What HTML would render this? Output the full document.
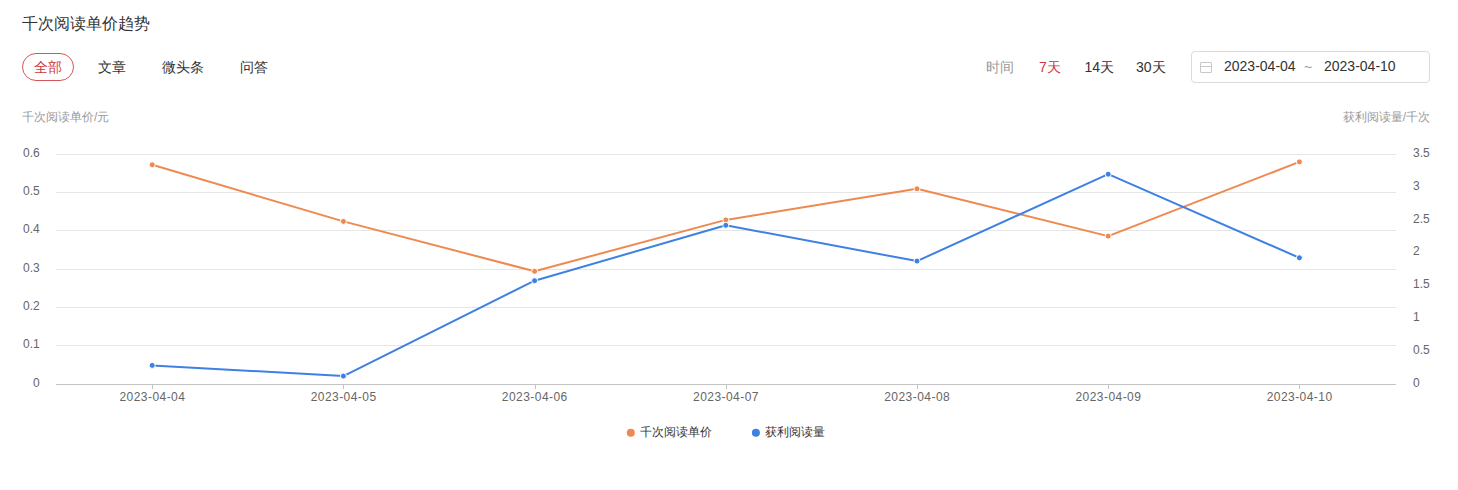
<!DOCTYPE html>
<html><head><meta charset="utf-8"><style>
*{margin:0;padding:0;box-sizing:border-box}
html,body{width:1458px;height:490px;background:#fff;overflow:hidden;font-family:"Liberation Sans",sans-serif;color:#333}
.a{position:absolute;white-space:nowrap}
.title{left:22px;top:14px;font-size:16px;line-height:20px;color:#333}
.pill{left:22px;top:53px;width:52px;height:28px;border:1px solid #d6555b;border-radius:14px}
.tab{top:59px;font-size:14px;line-height:16px;color:#333}
.red{color:#cf363d}
.gray{color:#999}
.box{left:1191px;top:51px;width:239px;height:32px;border:1px solid #dadbde;border-radius:4px}
.cal{left:1200px;top:62px;width:12px;height:11px;border:1px solid #c8c8c8;border-radius:1px}
.cal:after{content:"";position:absolute;left:0;right:0;top:3px;height:1px;background:#c8c8c8}
.ax{top:110px;font-size:12px;line-height:14px;color:#999}
.leg{top:425px;font-size:12px;line-height:14px;color:#333}
</style></head><body>
<svg width="1458" height="490" viewBox="0 0 1458 490" style="position:absolute;left:0;top:0">
<line x1="56" x2="1396" y1="154.5" y2="154.5" stroke="#e6e6e6" stroke-width="1"/>
<line x1="56" x2="1396" y1="192.5" y2="192.5" stroke="#e6e6e6" stroke-width="1"/>
<line x1="56" x2="1396" y1="230.5" y2="230.5" stroke="#e6e6e6" stroke-width="1"/>
<line x1="56" x2="1396" y1="269.5" y2="269.5" stroke="#e6e6e6" stroke-width="1"/>
<line x1="56" x2="1396" y1="307.5" y2="307.5" stroke="#e6e6e6" stroke-width="1"/>
<line x1="56" x2="1396" y1="345.5" y2="345.5" stroke="#e6e6e6" stroke-width="1"/>
<line x1="56" x2="1396" y1="384.5" y2="384.5" stroke="#c4c4c4" stroke-width="1"/>
<line x1="152.5" x2="152.5" y1="385" y2="389" stroke="#c4c4c4" stroke-width="1"/>
<line x1="343.5" x2="343.5" y1="385" y2="389" stroke="#c4c4c4" stroke-width="1"/>
<line x1="535.5" x2="535.5" y1="385" y2="389" stroke="#c4c4c4" stroke-width="1"/>
<line x1="726.5" x2="726.5" y1="385" y2="389" stroke="#c4c4c4" stroke-width="1"/>
<line x1="917.5" x2="917.5" y1="385" y2="389" stroke="#c4c4c4" stroke-width="1"/>
<line x1="1108.5" x2="1108.5" y1="385" y2="389" stroke="#c4c4c4" stroke-width="1"/>
<line x1="1299.5" x2="1299.5" y1="385" y2="389" stroke="#c4c4c4" stroke-width="1"/>
<g font-family="Liberation Sans, sans-serif" font-size="12" fill="#666">
<text x="39.8" y="156.8" text-anchor="end">0.6</text>
<text x="39.8" y="194.8" text-anchor="end">0.5</text>
<text x="39.8" y="232.8" text-anchor="end">0.4</text>
<text x="39.8" y="271.8" text-anchor="end">0.3</text>
<text x="39.8" y="309.8" text-anchor="end">0.2</text>
<text x="39.8" y="347.8" text-anchor="end">0.1</text>
<text x="39.8" y="386.8" text-anchor="end">0</text>
<text x="1413" y="156.8">3.5</text>
<text x="1413" y="189.7">3</text>
<text x="1413" y="222.5">2.5</text>
<text x="1413" y="255.4">2</text>
<text x="1413" y="288.2">1.5</text>
<text x="1413" y="321.1">1</text>
<text x="1413" y="353.9">0.5</text>
<text x="1413" y="386.8">0</text>
<text x="152.4" y="400.7" text-anchor="middle" letter-spacing="0.45">2023-04-04</text>
<text x="343.6" y="400.7" text-anchor="middle" letter-spacing="0.45">2023-04-05</text>
<text x="534.8" y="400.7" text-anchor="middle" letter-spacing="0.45">2023-04-06</text>
<text x="726.0" y="400.7" text-anchor="middle" letter-spacing="0.45">2023-04-07</text>
<text x="917.2" y="400.7" text-anchor="middle" letter-spacing="0.45">2023-04-08</text>
<text x="1108.4" y="400.7" text-anchor="middle" letter-spacing="0.45">2023-04-09</text>
<text x="1299.6" y="400.7" text-anchor="middle" letter-spacing="0.45">2023-04-10</text>
</g>
<path d="M152.2,164.8 L343.4,221.4 L534.6,271.3 L725.8,219.9 L917.0,188.8 L1108.2,236.1 L1299.4,161.9" fill="none" stroke="#ee8950" stroke-width="2" stroke-linejoin="round"/>
<path d="M152.2,365.4 L343.4,376.1 L534.6,280.7 L725.8,225.3 L917.0,261.1 L1108.2,174.2 L1299.4,257.8" fill="none" stroke="#3f80e3" stroke-width="2" stroke-linejoin="round"/>
<circle cx="152.2" cy="164.8" r="3" fill="#ee8950" stroke="#fff" stroke-width="1"/>
<circle cx="343.4" cy="221.4" r="3" fill="#ee8950" stroke="#fff" stroke-width="1"/>
<circle cx="534.6" cy="271.3" r="3" fill="#ee8950" stroke="#fff" stroke-width="1"/>
<circle cx="725.8" cy="219.9" r="3" fill="#ee8950" stroke="#fff" stroke-width="1"/>
<circle cx="917.0" cy="188.8" r="3" fill="#ee8950" stroke="#fff" stroke-width="1"/>
<circle cx="1108.2" cy="236.1" r="3" fill="#ee8950" stroke="#fff" stroke-width="1"/>
<circle cx="1299.4" cy="161.9" r="3" fill="#ee8950" stroke="#fff" stroke-width="1"/>
<circle cx="152.2" cy="365.4" r="3" fill="#3f80e3" stroke="#fff" stroke-width="1"/>
<circle cx="343.4" cy="376.1" r="3" fill="#3f80e3" stroke="#fff" stroke-width="1"/>
<circle cx="534.6" cy="280.7" r="3" fill="#3f80e3" stroke="#fff" stroke-width="1"/>
<circle cx="725.8" cy="225.3" r="3" fill="#3f80e3" stroke="#fff" stroke-width="1"/>
<circle cx="917.0" cy="261.1" r="3" fill="#3f80e3" stroke="#fff" stroke-width="1"/>
<circle cx="1108.2" cy="174.2" r="3" fill="#3f80e3" stroke="#fff" stroke-width="1"/>
<circle cx="1299.4" cy="257.8" r="3" fill="#3f80e3" stroke="#fff" stroke-width="1"/>
<circle cx="630.8" cy="432.8" r="4" fill="#ee8950"/>
<circle cx="755.9" cy="432.7" r="4" fill="#3f80e3"/>
</svg>
<div class="a title">千次阅读单价趋势</div>
<div class="a pill"></div>
<div class="a tab red" style="left:34px">全部</div>
<div class="a tab" style="left:98px">文章</div>
<div class="a tab" style="left:162px">微头条</div>
<div class="a tab" style="left:240px">问答</div>
<div class="a tab gray" style="left:986px">时间</div>
<div class="a tab red" style="left:1039px">7天</div>
<div class="a tab" style="left:1084.5px">14天</div>
<div class="a tab" style="left:1136px">30天</div>
<div class="a box"></div>
<div class="a cal"></div>
<div class="a tab" style="left:1224px;top:58px">2023-04-04</div>
<div class="a tab gray" style="left:1304px">~</div>
<div class="a tab" style="left:1324px;top:58px">2023-04-10</div>
<div class="a ax" style="left:22px">千次阅读单价/元</div>
<div class="a ax" style="right:28px">获利阅读量/千次</div>
<div class="a leg" style="left:640px">千次阅读单价</div>
<div class="a leg" style="left:765px">获利阅读量</div>
</body></html>
